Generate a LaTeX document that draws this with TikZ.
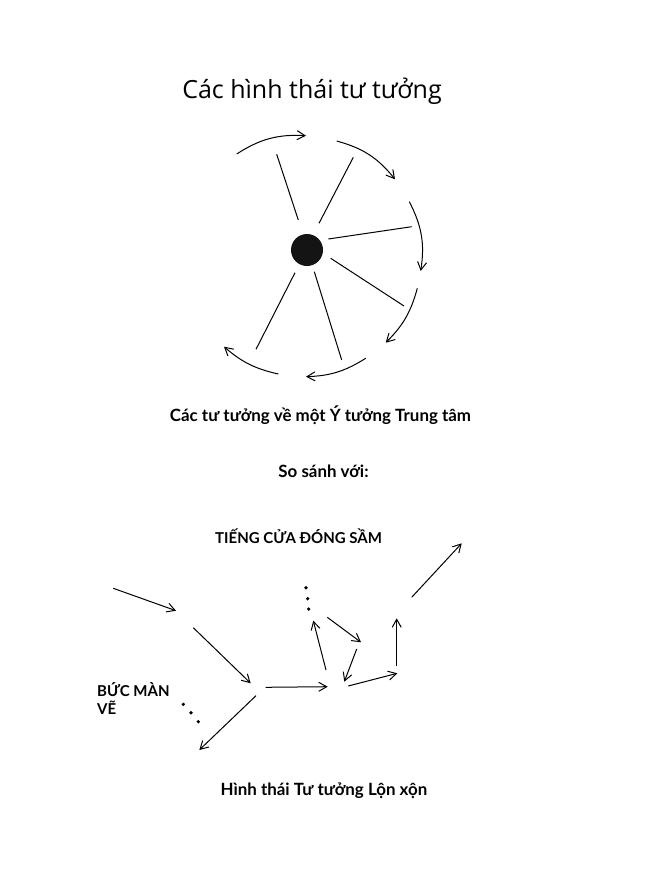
\documentclass[tikz,border=0pt]{standalone}
\usepackage{fontspec}
\setmainfont{Open Sans}
\newfontfamily\capfont{Lato}
\usetikzlibrary{arrows.meta}
\begin{document}
\begin{tikzpicture}[x=1pt,y=-1pt,
  line/.style={line width=1pt,black},
  arr/.style={line width=1pt,black,-{Straight Barb[length=8pt,width=9pt,line width=1pt]}},
  dotmark/.style={circle,fill=black,inner sep=0pt,minimum size=3.6pt},
  titletext/.style={font=\fontsize{25}{30}\selectfont,anchor=base},
  captext/.style={font=\capfont\bfseries\fontsize{16.9}{20}\selectfont,anchor=base},
  labtext/.style={font=\capfont\bfseries\fontsize{15}{18}\selectfont,anchor=base west,inner sep=0pt}]
\useasboundingbox (0,0) rectangle (651,870);
\fill[white] (0,0) rectangle (651,870);

% title
\node[titletext] (title) at (312,98) {Các hình thái tư tưởng};

% central idea
\node[circle,fill=black!92,minimum size=32pt,inner sep=0pt] (c) at (307,250) {};
% spokes
\coordinate (s1a) at (298.3,220); \coordinate (s1b) at (276.7,154.3);
\coordinate (s2a) at (319,223.3); \coordinate (s2b) at (353.3,157.3);
\coordinate (s3a) at (328.3,239); \coordinate (s3b) at (411.7,226.7);
\coordinate (s4a) at (330.7,258.3); \coordinate (s4b) at (404,306);
\coordinate (s5a) at (295,272.7); \coordinate (s5b) at (256,349.3);
\coordinate (s6a) at (314.3,271.7); \coordinate (s6b) at (341.7,360);
\foreach \i in {1,...,6} \draw[line] (s\i a) -- (s\i b);

% arcs
\coordinate (a1s) at (236.7,154); \coordinate (a1e) at (306,135.7);
\coordinate (a2s) at (336.7,141); \coordinate (a2e) at (395,179.3);
\coordinate (a3s) at (409.3,201.7); \coordinate (a3e) at (420.7,271);
\coordinate (a4s) at (417.3,288.3); \coordinate (a4e) at (385.7,342.7);
\coordinate (a5s) at (365.7,358.3); \coordinate (a5e) at (306,376.7);
\coordinate (a6s) at (278.3,374); \coordinate (a6e) at (224,346.7);
\draw[arr] (a1s) to[bend left=18] (a1e);
\draw[arr] (a2s) to[bend left=18] (a2e);
\draw[arr] (a3s) to[bend left=18] (a3e);
\draw[arr] (a4s) to[bend left=15] (a4e);
\draw[arr] (a5s) to[bend left=15] (a5e);
\draw[arr] (a6s) to[bend left=14] (a6e);

% captions
\node[captext] (cap1) at (320.5,421) {Các tư tưởng về một Ý tưởng Trung tâm};
\node[captext] (cap2) at (323.5,477) {So sánh với:};
\node[captext] (cap3) at (324,795) {Hình thái Tư tưởng Lộn xộn};

% chaotic thoughts
\node[labtext] (door) at (215,543) {TIẾNG CỬA ĐÓNG SẦM};
\node[labtext] (screen1) at (97,696) {BỨC MÀN};
\node[labtext] (screen2) at (97,714) {VẼ};

\coordinate (b1s) at (113.3,588.3); \coordinate (b1e) at (176,610.7);
\coordinate (b2s) at (193.3,627.7); \coordinate (b2e) at (250.7,683.3);
\coordinate (b3s) at (256,695.7);   \coordinate (b3e) at (199.3,750);
\coordinate (b4s) at (265.7,687.3); \coordinate (b4e) at (327.7,686.7);
\coordinate (b5s) at (326,670);     \coordinate (b5e) at (313.3,620.7);
\coordinate (b6s) at (327.3,617.3); \coordinate (b6e) at (361,642.3);
\coordinate (b7s) at (356.7,649);   \coordinate (b7e) at (344.3,681.7);
\coordinate (b8s) at (348.3,686);   \coordinate (b8e) at (397.3,673.3);
\coordinate (b9s) at (396.7,665.7); \coordinate (b9e) at (396.7,618.3);
\coordinate (b10s) at (411.7,597.3); \coordinate (b10e) at (461.7,543.3);
\foreach \i in {1,...,10} \draw[arr] (b\i s) -- (b\i e);

% ellipsis dots
\node[dotmark] (v1) at (306,587.7) {};
\node[dotmark] (v2) at (307.7,598.7) {};
\node[dotmark] (v3) at (308.7,609) {};
\node[dotmark] (d1) at (183.3,704.3) {};
\node[dotmark] (d2) at (191,712.7) {};
\node[dotmark] (d3) at (198.3,721.7) {};
\end{tikzpicture}
\end{document}
